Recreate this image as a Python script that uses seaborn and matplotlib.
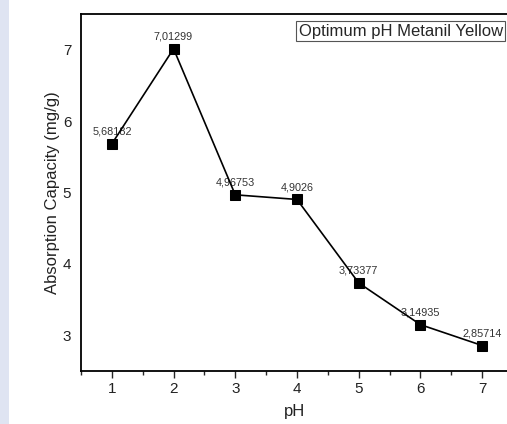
import matplotlib
matplotlib.use("Agg")
import matplotlib.pyplot as plt
import matplotlib.patches as mpatches
from matplotlib.ticker import MultipleLocator
import pandas as pd
import seaborn as sns

# data
ph = [1, 2, 3, 4, 5, 6, 7]
capacity = [5.68182, 7.01299, 4.96753, 4.9026, 3.73377, 3.14935, 2.85714]
point_labels = ["5,68182", "7,01299", "4,96753", "4,9026", "3,73377", "3,14935", "2,85714"]

df = pd.DataFrame({"pH": ph, "capacity": capacity})

sns.set_style("white")
plt.rcParams["font.family"] = ["Liberation Sans", "DejaVu Sans"]

fig = plt.figure(figsize=(5.07, 4.24), dpi=100)
# light blue strip on the left edge of the screenshot
fig.patches.append(mpatches.Rectangle((0, 0), 9 / 507, 1, transform=fig.transFigure,
                                      facecolor="#dfe4f2", edgecolor="none", zorder=0))

ax = fig.add_axes([81 / 507, 1 - 371 / 424, 1 - 81 / 507 + 0.002, (371 - 14) / 424])

sns.lineplot(data=df, x="pH", y="capacity", ax=ax, color="black", linewidth=1.2,
             marker="s", markersize=7, markeredgecolor="black", markerfacecolor="black",
             zorder=3)

for x, y, lab in zip(ph, capacity, point_labels):
    ax.annotate(lab, (x, y), xytext=(0, 5), textcoords="offset points",
                ha="center", va="bottom", fontsize=7.8, color="#333333", zorder=2)

ax.set_xlim(0.5, 7.42)
ax.set_ylim(2.5, 7.5)
ax.xaxis.set_major_locator(MultipleLocator(1))
ax.xaxis.set_minor_locator(MultipleLocator(0.5))
ax.yaxis.set_major_locator(MultipleLocator(1))
ax.tick_params(axis="x", which="major", direction="out", length=5, width=1,
               bottom=True, labelsize=11, pad=3, labelcolor="#222222")
ax.tick_params(axis="x", which="minor", direction="out", length=3, width=1, bottom=True)
ax.tick_params(axis="y", length=0, labelsize=11, pad=7, labelcolor="#222222")

for side in ["left", "bottom", "top"]:
    ax.spines[side].set_color("black")
    ax.spines[side].set_linewidth(1.3)
ax.spines["right"].set_visible(False)

ax.set_xlabel("pH", fontsize=12, labelpad=6, color="#222222")
ax.set_ylabel("Absorption Capacity (mg/g)", fontsize=12, labelpad=2, color="#222222")

ax.text(0.988, 0.952, "Optimum pH Metanil Yellow", transform=ax.transAxes,
        ha="right", va="center", fontsize=12,
        bbox=dict(boxstyle="square,pad=0.15", facecolor="white", edgecolor="#555555",
                  linewidth=0.8))

fig.savefig("out.png", dpi=100)
plt.close(fig)
